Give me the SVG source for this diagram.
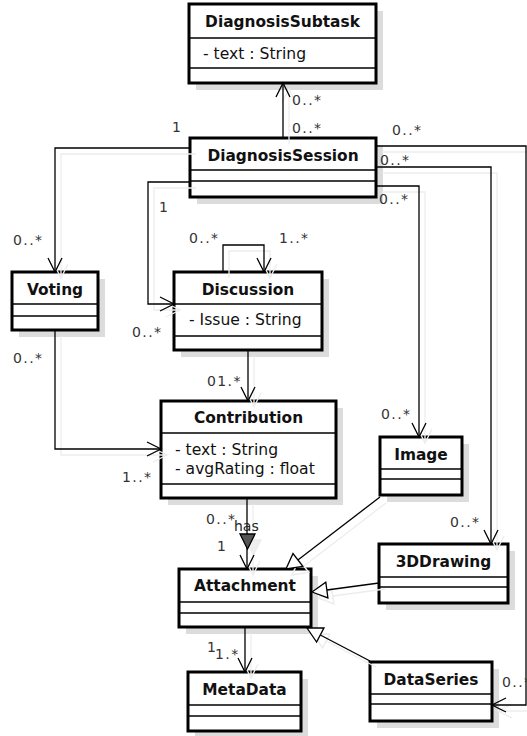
<svg xmlns="http://www.w3.org/2000/svg" xmlns:xlink="http://www.w3.org/1999/xlink" width="527" height="736" viewBox="0 0 527 736">
  <style>
    .shade { fill: #dcdcdc; stroke: none; }
    .box { fill: #fff; stroke: #000; stroke-width: 3; }
    .div { stroke: #000; stroke-width: 1.6; }
    .name { font-family: "DejaVu Sans", Verdana, sans-serif; font-weight: bold; font-size: 15.4px; text-anchor: middle; fill: #111; }
    .attr { font-family: "DejaVu Sans", Verdana, sans-serif; font-size: 15.6px; fill: #111; }
    .mult { font-family: "DejaVu Sans", Verdana, sans-serif; font-size: 14px; letter-spacing: 1.4px; fill: #333; }
    .role { font-family: "DejaVu Sans", Verdana, sans-serif; font-size: 14px; fill: #222; }
  </style>
  <defs>
    <marker id="open" viewBox="-16 -9 18 18" refX="0" refY="0" markerWidth="18" markerHeight="18" markerUnits="userSpaceOnUse" orient="auto" overflow="visible">
      <path d="M-14,-7 L0,0 L-14,7" fill="none" stroke="#000" stroke-width="1.3"/>
    </marker>
    <!-- turns black strokes into pale grey and white fills into transparency -->
    <filter id="pale" x="-5%" y="-5%" width="110%" height="110%">
      <feColorMatrix type="matrix" values="0 0 0 0 0.84  0 0 0 0 0.84  0 0 0 0 0.84  -0.33 -0.33 -0.33 1 0"/>
    </filter>
  </defs>
  <rect width="527" height="736" fill="#fff"/>

  <!-- classes -->
  <g id="DiagnosisSubtask">
    <rect class="shade" x="196" y="11" width="187" height="79"/>
    <rect class="box" x="189" y="4" width="187" height="79"/>
    <line class="div" x1="189" y1="38" x2="376" y2="38"/>
    <line class="div" x1="189" y1="68" x2="376" y2="68"/>
    <text class="name" x="282.5" y="27">DiagnosisSubtask</text>
    <text class="attr" x="203" y="59">- text : String</text>
  </g>
  <g id="DiagnosisSession">
    <rect class="shade" x="197" y="145" width="186" height="59"/>
    <rect class="box" x="190" y="138" width="186" height="59"/>
    <line class="div" x1="190" y1="170" x2="376" y2="170"/>
    <line class="div" x1="190" y1="181" x2="376" y2="181"/>
    <text class="name" x="283" y="161">DiagnosisSession</text>
  </g>
  <g id="Voting">
    <rect class="shade" x="19" y="279" width="86" height="58"/>
    <rect class="box" x="12" y="272" width="86" height="58"/>
    <line class="div" x1="12" y1="304" x2="98" y2="304"/>
    <line class="div" x1="12" y1="316" x2="98" y2="316"/>
    <text class="name" x="55" y="295">Voting</text>
  </g>
  <g id="Discussion">
    <rect class="shade" x="181" y="279" width="148" height="78"/>
    <rect class="box" x="174" y="272" width="148" height="78"/>
    <line class="div" x1="174" y1="304" x2="322" y2="304"/>
    <line class="div" x1="174" y1="336" x2="322" y2="336"/>
    <text class="name" x="248" y="295">Discussion</text>
    <text class="attr" x="189" y="325">- Issue : String</text>
  </g>
  <g id="Contribution">
    <rect class="shade" x="168" y="408" width="175" height="97"/>
    <rect class="box" x="161" y="401" width="175" height="97"/>
    <line class="div" x1="161" y1="433" x2="336" y2="433"/>
    <line class="div" x1="161" y1="484" x2="336" y2="484"/>
    <text class="name" x="248.5" y="423">Contribution</text>
    <text class="attr" x="175" y="455">- text : String</text>
    <text class="attr" x="175" y="474">- avgRating : float</text>
  </g>
  <g id="Image">
    <rect class="shade" x="387" y="444" width="82" height="58"/>
    <rect class="box" x="380" y="437" width="82" height="58"/>
    <line class="div" x1="380" y1="469" x2="462" y2="469"/>
    <line class="div" x1="380" y1="479" x2="462" y2="479"/>
    <text class="name" x="421" y="460">Image</text>
  </g>
  <g id="ThreeDDrawing">
    <rect class="shade" x="386" y="551" width="129" height="59"/>
    <rect class="box" x="379" y="544" width="129" height="59"/>
    <line class="div" x1="379" y1="577" x2="508" y2="577"/>
    <line class="div" x1="379" y1="587" x2="508" y2="587"/>
    <text class="name" x="443.5" y="567">3DDrawing</text>
  </g>
  <g id="Attachment">
    <rect class="shade" x="186" y="576" width="132" height="58"/>
    <rect class="box" x="179" y="569" width="132" height="58"/>
    <line class="div" x1="179" y1="602" x2="311" y2="602"/>
    <line class="div" x1="179" y1="613" x2="311" y2="613"/>
    <text class="name" x="245" y="591">Attachment</text>
  </g>
  <g id="MetaData">
    <rect class="shade" x="195" y="679" width="113" height="59"/>
    <rect class="box" x="188" y="672" width="113" height="59"/>
    <line class="div" x1="188" y1="705" x2="301" y2="705"/>
    <line class="div" x1="188" y1="716" x2="301" y2="716"/>
    <text class="name" x="244.5" y="695">MetaData</text>
  </g>
  <g id="DataSeries">
    <rect class="shade" x="377" y="669" width="122" height="59"/>
    <rect class="box" x="370" y="662" width="122" height="59"/>
    <line class="div" x1="370" y1="694" x2="492" y2="694"/>
    <line class="div" x1="370" y1="704" x2="492" y2="704"/>
    <text class="name" x="431" y="685">DataSeries</text>
  </g>

  <!-- associations and generalizations; a pale offset copy sits beneath -->
  <use xlink:href="#connectors" href="#connectors" transform="translate(6,6)" filter="url(#pale)"/>
  <g id="connectors" fill="none" stroke="#000" stroke-width="1.3">
    <path d="M283,138 V83" marker-end="url(#open)"/>
    <path d="M190,148 H55 V272" marker-end="url(#open)"/>
    <path d="M190,182 H148 V304 H174" marker-end="url(#open)"/>
    <path d="M223,272 V245 H264 V272" marker-end="url(#open)"/>
    <path d="M55,330 V449 H161" marker-end="url(#open)"/>
    <path d="M248,350 V401" marker-end="url(#open)"/>
    <path d="M247,498 V569" marker-end="url(#open)"/>
    <polygon points="240,534 255,534 247.5,549" fill="#555"/>
    <path d="M376,186 H419 V437" marker-end="url(#open)"/>
    <path d="M376,167 H491 V544" marker-end="url(#open)"/>
    <path d="M376,146 H526 V705 H492" marker-end="url(#open)"/>
    <path d="M245,627 V672" marker-end="url(#open)"/>
    <path d="M380,497 L297.9,559.9"/>
    <polygon points="286,569 302.8,566.3 293,553.5" fill="#fff"/>
    <path d="M379,583 L326.9,590"/>
    <polygon points="312,592 327.9,597.9 325.8,582.1" fill="#fff"/>
    <path d="M370,661 L320.3,635"/>
    <polygon points="307,628 316.6,642.1 324,627.9" fill="#fff"/>
  </g>

  <!-- multiplicities and role names -->
  <g id="labels">
    <text class="mult" x="292" y="105">0..*</text>
    <text class="mult" x="292" y="133">0..*</text>
    <text class="mult" x="172" y="132">1</text>
    <text class="mult" x="13" y="245">0..*</text>
    <text class="mult" x="392" y="135">0..*</text>
    <text class="mult" x="380" y="165">0..*</text>
    <text class="mult" x="379" y="204">0..*</text>
    <text class="mult" x="159" y="212">1</text>
    <text class="mult" x="189" y="243">0..*</text>
    <text class="mult" x="279" y="243">1..*</text>
    <text class="mult" x="132" y="337">0..*</text>
    <text class="mult" x="13" y="363">0..*</text>
    <text class="mult" x="207" y="386">01.*</text>
    <text class="mult" x="381" y="419">0..*</text>
    <text class="mult" x="122" y="482">1..*</text>
    <text class="mult" x="206" y="524">0..*</text>
    <text class="role" x="234" y="531">has</text>
    <text class="mult" x="217" y="551">1</text>
    <text class="mult" x="450" y="527">0..*</text>
    <text class="mult" x="207" y="652">1</text>
    <text class="mult" x="215" y="659">1.*</text>
    <text class="mult" x="502" y="687">0..*</text>
  </g>
</svg>
